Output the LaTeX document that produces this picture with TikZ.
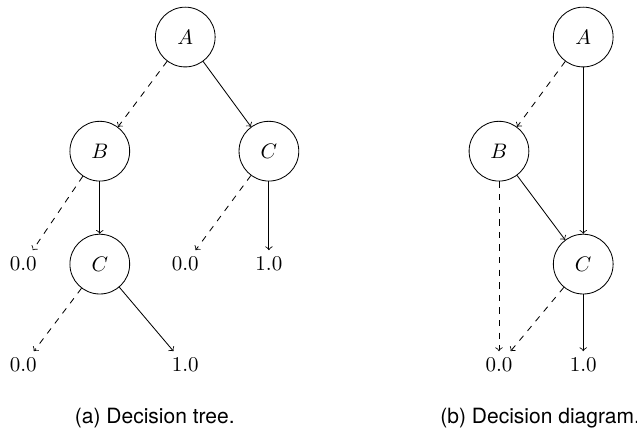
\documentclass[tikz,border=0pt]{standalone}
\usepackage{fontspec}
\newfontfamily\capfont{TeX Gyre Heros}

\begin{document}
\begin{tikzpicture}[
		var/.style={draw,circle,minimum size=1cm,inner sep=0pt},
		leaf/.style={inner sep=3pt},
		lo/.style={->,dashed},
		hi/.style={->}
	]
		
		\useasboundingbox (0,0) rectangle (10.66,-7.25);
		
		%Decision tree nodes
		\node[var] (A) at (3.10,-0.62) {$A$};
		\node[var] (B) at (1.67,-2.53) {$B$};
		\node[var] (C1) at (4.50,-2.53) {$C$};
		\node[var] (C2) at (1.67,-4.42) {$C$};
		\node[leaf] (t1) at (0.39,-4.42) {0.0};
		\node[leaf] (t2) at (3.10,-4.42) {0.0};
		\node[leaf] (t3) at (4.50,-4.42) {1.0};
		\node[leaf] (t4) at (0.39,-6.11) {0.0};
		\node[leaf] (t5) at (3.10,-6.11) {1.0};
		
		%Drawing tree edges
		\draw[lo] (A) -- (B);
		\draw[hi] (A) -- (C1);
		\draw[lo] (B) -- (t1);
		\draw[hi] (B) -- (C2);
		\draw[lo] (C1) -- (t2);
		\draw[hi] (C1) -- (t3);
		\draw[lo] (C2) -- (t4);
		\draw[hi] (C2) -- (t5);
		
		%Decision diagram nodes
		\node[var] (dA) at (9.76,-0.62) {$A$};
		\node[var] (dB) at (8.35,-2.53) {$B$};
		\node[var] (dC) at (9.76,-4.42) {$C$};
		\node[leaf] (d0) at (8.35,-6.11) {0.0};
		\node[leaf] (d1) at (9.76,-6.11) {1.0};
		
		%Drawing diagram edges
		\draw[lo] (dA) -- (dB);
		\draw[hi] (dA) -- (dC);
		\draw[lo] (dB) -- (d0);
		\draw[hi] (dB) -- (dC);
		\draw[lo] (dC) -- (d0);
		\draw[hi] (dC) -- (d1);
		
		%Captions
		\node (capa) at (2.59,-7.00) {\capfont (a) Decision tree.};
		\node (capb) at (9.04,-7.00) {\capfont (b) Decision diagram.};
	\end{tikzpicture}
\end{document}
